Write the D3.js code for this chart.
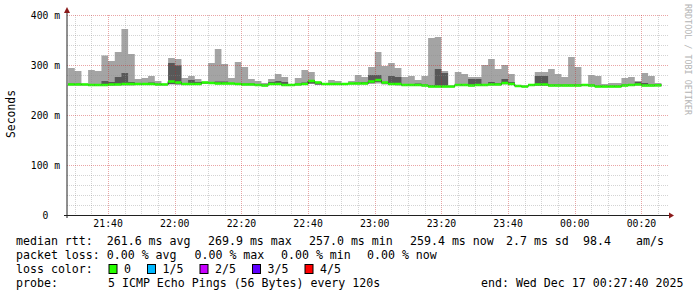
<!DOCTYPE html>
<html>
<head>
<meta charset="utf-8">
<script src="https://cdn.jsdelivr.net/npm/d3@7"></script>
<style>
  html, body { margin: 0; padding: 0; background: #fff; }
  svg { display: block; font-family: "DejaVu Sans Mono", monospace; }
</style>
</head>
<body>
<svg id="chart" width="697" height="297"></svg>
<script>
// ---- Data: one value per 2-minute RRD step (ms), 21:28 .. 00:26 ----
const medianRtt = [
  261, 261, 261, 260, 260, 260, 261, 261, 262, 262,
  262, 262, 262, 261, 261, 267, 265, 262, 262, 262,
  265, 264, 263, 263, 263, 262, 261, 261, 260, 259,
  262, 262, 260, 260, 261, 262, 268, 265, 262, 262,
  262, 262, 263, 263, 263, 267, 269.9, 265, 262, 262,
  260, 260, 260, 259, 257, 257, 257, 257, 260, 260,
  259, 260, 260, 261, 261, 264, 262, 258, 257, 260,
  261, 261, 259, 259, 259, 259, 259, 260, 259, 257,
  257, 257, 257, 259, 260, 261, 259, 259, 259.4
];
// Smoke: sorted pings 1 (min), 2, 4, 5 (max)
const pingMin = [
  259, 259, 259, 258, 258, 258, 258, 259, 259, 259,
  260, 260, 260, 259, 259, 261, 260, 260, 260, 260,
  262, 262, 261, 261, 261, 260, 259, 259, 258, 257,
  260, 260, 258, 258, 259, 260, 262, 260, 260, 260,
  260, 260, 261, 261, 261, 262, 263, 261, 260, 259,
  258, 258, 258, 257, 255, 255, 255, 255, 258, 258,
  257, 258, 258, 259, 259, 261, 260, 256, 255, 258,
  258, 258, 257, 257, 257, 257, 257, 258, 257, 255,
  255, 255, 255, 257, 258, 259, 257, 257, 257
];
const ping2 = [
  260, 260, 260, 259, 259, 259, 260, 260, 261, 261,
  261, 261, 261, 260, 260, 262, 262, 261, 261, 261,
  263, 263, 262, 262, 262, 261, 260, 260, 259, 258,
  261, 261, 259, 259, 260, 261, 263, 261, 261, 261,
  261, 261, 262, 262, 262, 264, 266, 263, 261, 261,
  259, 259, 259, 258, 256, 256, 256, 256, 259, 259,
  258, 259, 259, 260, 260, 262, 261, 257, 256, 259,
  259, 259, 258, 258, 258, 258, 258, 259, 258, 256,
  256, 256, 256, 258, 259, 260, 258, 258, 258
];
const ping4 = [
  263, 263, 262, 262, 262, 268, 266, 276, 284, 266,
  264, 264, 265, 263, 262, 304, 299, 263, 270, 266,
  266, 266, 267, 267, 264, 264, 263, 263, 262, 261,
  266, 268, 266, 261, 263, 265, 270, 266, 263, 263,
  263, 263, 264, 265, 266, 280, 280, 266, 278, 276,
  262, 262, 263, 261, 260, 292, 284, 258, 262, 262,
  272, 272, 262, 266, 264, 272, 266, 259, 258, 261,
  278, 278, 261, 261, 261, 261, 261, 261, 261, 259,
  259, 259, 259, 261, 262, 266, 264, 261, 261
];
const pingMax = [
  294, 288, 263, 290, 288, 319, 308, 326, 372, 322,
  272, 274, 278, 268, 263, 314, 312, 274, 278, 272,
  267, 304, 332, 302, 274, 306, 296, 272, 268, 264,
  272, 282, 276, 262, 274, 290, 286, 267, 264, 270,
  268, 264, 268, 280, 276, 296, 326, 298, 304, 294,
  276, 278, 270, 278, 354, 356, 288, 259, 286, 282,
  276, 276, 300, 312, 292, 300, 282, 260, 259, 262,
  286, 286, 292, 282, 276, 316, 296, 262, 280, 278,
  262, 264, 264, 274, 276, 268, 284, 278, 264
];
// Lost pings (of 5) per step
const lostPings = [
  0,0,0,0,0,0,0,0,0,0, 0,0,0,0,0,0,0,0,0,0,
  0,0,0,0,0,0,0,0,0,0, 0,0,0,0,0,0,0,0,0,0,
  0,0,0,0,0,0,0,0,0,0, 0,0,0,0,0,0,0,0,0,0,
  0,0,0,0,0,0,0,0,0,0, 0,0,0,0,0,0,0,0,0,0,
  0,0,0,0,0,0,0,0,0
];
const lossLabels = ["0", "1/5", "2/5", "3/5", "4/5"];
const lossColors = ["#26ff00", "#00b8ff", "#c800ff", "#5e00ff", "#ff0000"];
const yTickValues = [0, 100, 200, 300, 400];
const rttStats = ["median rtt:  261.6 ms avg", "269.9 ms max", "257.0 ms min", "259.4 ms now", "2.7 ms sd", "98.4", "am/s"];
const lossStats = ["packet loss: 0.00 % avg", "0.00 % max", "0.00 % min", "0.00 % now"];
const probeText = "5 ICMP Echo Pings (56 Bytes) every 120s";
const endText = "end: Wed Dec 17 00:27:40 2025";

// ---- Layout ----
const svg = d3.select("#chart");
const X0 = 67, X1 = 667, Y0 = 215, Y1 = 15;
const tStart = new Date(Date.UTC(2025, 11, 16, 21, 27, 40));
const tEnd = new Date(Date.UTC(2025, 11, 17, 0, 27, 40));
const firstStep = new Date(Date.UTC(2025, 11, 16, 21, 28, 0));
const STEP = 120000;

const x = d3.scaleUtc().domain([tStart, tEnd]).range([X0, X1]);
const y = d3.scaleLinear().domain([0, 400]).range([Y0, Y1]);

const rows = medianRtt.map((m, i) => ({
  t: new Date(firstStep.getTime() + i * STEP),
  med: m, p1: pingMin[i], p2: ping2[i], p4: ping4[i], p5: pingMax[i], loss: lostPings[i]
}));
// closing point so the last step is drawn to its full width
const last = rows[rows.length - 1];
const pts = rows.concat([Object.assign({}, last, { t: new Date(last.t.getTime() + STEP) })]);

const plot = svg.append("g");

// smoke: outer pair (min..max) light, inner pair darker
plot.append("path")
  .attr("d", d3.area().curve(d3.curveStepAfter).x(d => x(d.t)).y0(d => y(d.p1)).y1(d => y(d.p5))(pts))
  .attr("fill", "#a4a4a4");
plot.append("path")
  .attr("d", d3.area().curve(d3.curveStepAfter).x(d => x(d.t)).y0(d => y(d.p2)).y1(d => y(d.p4))(pts))
  .attr("fill", "#585858");

// median step line underneath the loss-coloured band
plot.append("path")
  .attr("d", d3.line().curve(d3.curveStepAfter).x(d => x(d.t)).y(d => y(d.med))(pts))
  .attr("fill", "none").attr("stroke", "#202020").attr("stroke-width", 1);

const halfBand = 2.5;
rows.forEach(d => {
  const xa = x(d.t), xb = x(new Date(d.t.getTime() + STEP));
  plot.append("rect")
    .attr("x", xa).attr("width", xb - xa)
    .attr("y", y(d.med + halfBand)).attr("height", y(d.med - halfBand) - y(d.med + halfBand))
    .attr("fill", lossColors[d.loss]);
});

// ---- Grid (drawn over the data, translucent) ----
const minorCol = "rgba(140,140,140,0.38)";
const majorCol = "rgba(200,30,30,0.40)";
const grid = svg.append("g").attr("shape-rendering", "crispEdges");
const minorTimes = d3.utcMinute.every(5).range(tStart, tEnd);
minorTimes.forEach(t => {
  const major = t.getUTCMinutes() % 20 === 0;
  const px = Math.round(x(t)) + 0.5;
  grid.append("line")
    .attr("x1", px).attr("x2", px).attr("y1", Y1).attr("y2", Y0)
    .attr("stroke", major ? majorCol : minorCol)
    .attr("stroke-dasharray", "1,1");
});
d3.range(20, 401, 20).forEach(v => {
  const major = v % 100 === 0;
  const py = Math.round(y(v)) + 0.5;
  grid.append("line")
    .attr("x1", X0).attr("x2", X1 + 2).attr("y1", py).attr("y2", py)
    .attr("stroke", major ? majorCol : minorCol)
    .attr("stroke-dasharray", "1,1");
});

// ---- Axes ----
const axes = svg.append("g");
axes.append("line").attr("x1", X0).attr("x2", X0).attr("y1", Y0 + 3).attr("y2", 12)
  .attr("stroke", "#202020").attr("stroke-width", 1);
axes.append("line").attr("x1", X0 - 3).attr("x2", X1 + 2).attr("y1", Y0 + 0.5).attr("y2", Y0 + 0.5)
  .attr("stroke", "#202020").attr("stroke-width", 1);
axes.append("path").attr("d", `M${X0 - 3},${13} L${X0 + 3},${13} L${X0},${7} Z`).attr("fill", "#8b1a1a");
axes.append("path").attr("d", `M${X1 + 2},${Y0 - 2.5} L${X1 + 2},${Y0 + 3.5} L${X1 + 7},${Y0 + 0.5} Z`).attr("fill", "#8b1a1a");

// tick labels
const fmtTime = d3.utcFormat("%H:%M");
d3.utcMinute.every(20).range(tStart, tEnd).forEach(t => {
  svg.append("text").attr("x", x(t)).attr("y", 227)
    .attr("text-anchor", "middle").attr("font-size", "9.8px").attr("fill", "#000")
    .text(fmtTime(t));
});
yTickValues.forEach(v => {
  svg.append("text").attr("x", 60).attr("y", y(v) + 3.5)
    .attr("text-anchor", "end").attr("font-size", "9.7px").attr("fill", "#000")
    .attr("xml:space", "preserve").style("white-space", "pre")
    .text(v === 0 ? "0  " : v + " m");
});

// vertical unit label
svg.append("text").attr("transform", "translate(14.5,114) rotate(-90)")
  .attr("text-anchor", "middle").attr("font-size", "11.4px").attr("fill", "#000")
  .text("Seconds");

// watermark
svg.append("text").attr("transform", "translate(685,4) rotate(90)")
  .attr("font-size", "8.4px").attr("fill", "#b4b4b4")
  .text("RRDTOOL / TOBI OETIKER");

// ---- Legend ----
const LF = "11.6px";
const legend = svg.append("g").attr("font-size", LF).attr("fill", "#000");
function put(txt, px, py) {
  legend.append("text").attr("x", px).attr("y", py)
    .attr("xml:space", "preserve").style("white-space", "pre").text(txt);
}
const rttX = [16, 208, 309, 410, 506, 583, 636];
rttStats.forEach((s, i) => put(s, rttX[i], 245));
const lossX = [16, 194.5, 281, 367];
lossStats.forEach((s, i) => put(s, lossX[i], 259));
put("loss color:", 16, 273);
let bx = 108.5;
lossLabels.forEach((lab, i) => {
  legend.append("rect").attr("x", bx + 0.5).attr("y", 264.5).attr("width", 8).attr("height", 9)
    .attr("fill", lossColors[i]).attr("stroke", "#000").attr("stroke-width", 1);
  const lx = bx + 15.5;
  put(lab, lx, 273);
  bx = lx + lab.length * 7 + 16;
});
put("probe:", 16, 287);
put(probeText, 108, 287);
put(endText, 481, 287);
</script>
</body>
</html>
